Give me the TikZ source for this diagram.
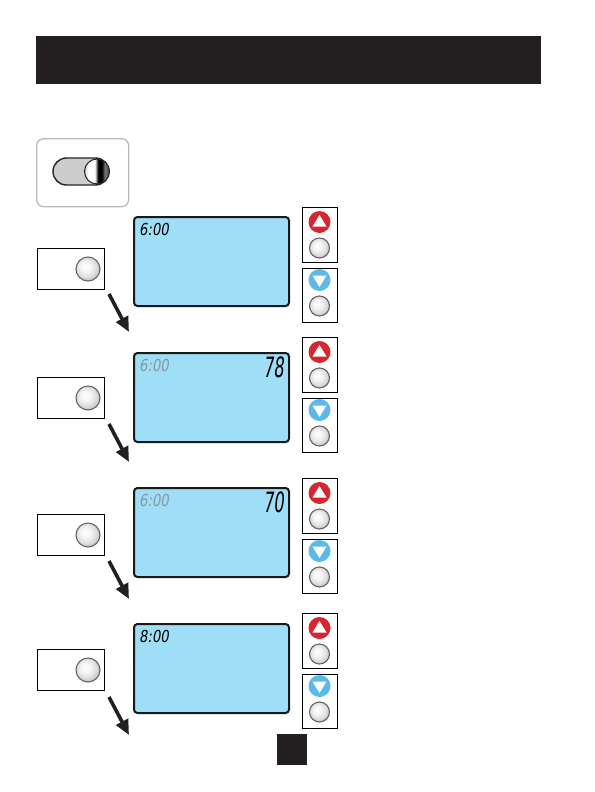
\documentclass[tikz,border=0pt]{standalone}
\usepackage{fontspec}
\usetikzlibrary{arrows.meta,shapes.misc,calc}
\newfontfamily\lcdfont[FakeSlant=0.2]{DejaVu Sans}
\definecolor{barblack}{RGB}{35,31,32}
\definecolor{lcdblue}{RGB}{158,222,247}
\definecolor{upred}{RGB}{214,38,48}
\definecolor{downblue}{RGB}{92,186,234}
\definecolor{dimgray}{RGB}{138,150,162}
\definecolor{pillgray}{RGB}{205,205,205}
\pgfdeclarehorizontalshading{knobshade}{100bp}{color(0bp)=(gray!40); color(25bp)=(gray!40); color(32bp)=(white); color(46bp)=(white); color(52bp)=(black); color(60bp)=(black); color(66bp)=(gray); color(75bp)=(gray!40!black); color(100bp)=(gray!40!black)}
\pgfdeclareradialshading{btnshade}{\pgfpoint{-6bp}{6bp}}{color(0bp)=(white); color(10bp)=(gray!8); color(20bp)=(gray!25); color(26bp)=(gray!45); color(30bp)=(gray!60); color(50bp)=(gray!60)}
\tikzset{
  lcdscreen/.style={draw=black!90, line width=2pt, fill=lcdblue, rounded corners=3.5pt},
  btnbox/.style={draw=black, line width=0.9pt, fill=white, inner sep=0pt, anchor=north west},
  graybtn/.style={circle, minimum size=#1, inner sep=0pt, shading=btnshade, draw=black!60, line width=1.1pt},
  graybtn/.default=24pt,
  colbtn/.style={circle, minimum size=22pt, inner sep=0pt, fill=#1},
  flowarrow/.style={line width=3.6pt, -{Triangle[length=15pt,width=13pt]}, barblack},
  timetext/.style={inner sep=0pt, anchor=base west, font=\lcdfont\fontsize{16.5}{16.5}\selectfont},
  temptext/.style={inner sep=0pt, anchor=base east, font=\lcdfont\fontsize{28}{28}\selectfont}
}
\begin{document}
\begin{tikzpicture}[x=1pt,y=-1pt]
\useasboundingbox (0,0) rectangle (594,792);
% header bar
\node[fill=barblack, inner sep=0pt, minimum width=505pt, minimum height=48pt, anchor=north west] (header) at (36,36) {};
% switch box
\node[draw=gray!55, line width=1.3pt, rounded corners=7pt, fill=white, minimum width=92pt, minimum height=68pt, anchor=north west] (swbox) at (36,138) {};
\node[rounded rectangle, draw=black!85, line width=1.4pt, fill=pillgray, minimum width=56pt, minimum height=27pt, inner sep=0pt] (pill) at (81,171.5) {};
\node[circle, minimum size=25pt, inner sep=0pt, shading=knobshade, draw=black!85, line width=1pt] (knob) at (97,171.5) {};
% rows
\foreach \i/\st/\lt/\at/\rt in {1/216/248/294/207, 2/352/377/424/337, 3/487/514/561/478, 4/623/649/697/613}{
  % screen
  \node[lcdscreen, minimum width=155pt, minimum height=89pt, anchor=north west, inner sep=0pt] (s\i) at (133,\st) {};
  % left button
  \node[btnbox, minimum width=67pt, minimum height=41pt] (lb\i) at (37,\lt) {};
  \node[graybtn] (lbb\i) at (88,\lt+21) {};
  % arrow
  \coordinate (as\i) at (109,\at);
  \coordinate (ae\i) at (129,\at+38);
  \draw[flowarrow] (as\i) -- (ae\i);
  % right up/down buttons
  \node[btnbox, minimum width=35pt, minimum height=55pt] (ub\i) at (302,\rt) {};
  \node[btnbox, minimum width=35pt, minimum height=54pt] (db\i) at (302,\rt+61) {};
  \node[colbtn=upred] (upc\i) at (319.5,\rt+15) {};
  \fill[white] ($(upc\i)+(-7,4.5)$) -- ($(upc\i)+(7,4.5)$) -- ($(upc\i)+(0,-7)$) -- cycle;
  \node[graybtn=20pt] (upg\i) at (319.5,\rt+41) {};
  \node[colbtn=downblue] (dnc\i) at (319.5,\rt+73) {};
  \fill[white] ($(dnc\i)+(-7,-4.5)$) -- ($(dnc\i)+(7,-4.5)$) -- ($(dnc\i)+(0,7)$) -- cycle;
  \node[graybtn=20pt] (dng\i) at (319.5,\rt+99) {};
}
% screen texts
\node[timetext, text=black] (t1) at (139,235) {\scalebox{0.8}[1]{6:00}};
\node[timetext, text=dimgray] (t2) at (139,371) {\scalebox{0.8}[1]{6:00}};
\node[temptext, text=black] (n2) at (284,377) {\scalebox{0.58}[1]{78}};
\node[timetext, text=dimgray] (t3) at (139,506) {\scalebox{0.8}[1]{6:00}};
\node[temptext, text=black] (n3) at (284,512) {\scalebox{0.58}[1]{70}};
\node[timetext, text=black] (t4) at (139,642) {\scalebox{0.8}[1]{8:00}};
% page number square
\node[fill=barblack, inner sep=0pt, minimum width=30pt, minimum height=31pt, anchor=north west] (pagesq) at (277,734) {};
\end{tikzpicture}
\end{document}
